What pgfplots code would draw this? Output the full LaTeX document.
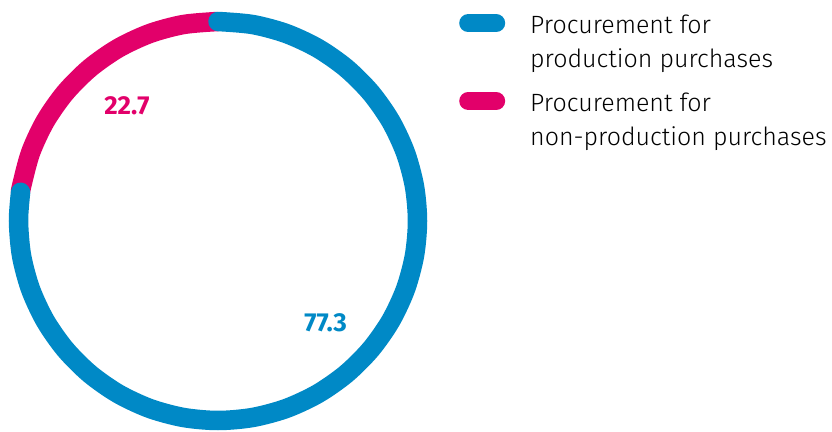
\documentclass[border=0pt]{standalone}
\usepackage{pgfplots}
\pgfplotsset{compat=1.18}
\usepgfplotslibrary{polar}
\usepackage{fontspec}
\IfFontExistsTF{Fira Sans Light}{\setmainfont{Fira Sans Light}[BoldFont={Fira Sans Bold}]}{\setmainfont{Fira Sans}}
\definecolor{cblue}{RGB}{0,137,198}
\definecolor{cpink}{RGB}{226,0,106}
\begin{document}
\begin{tikzpicture}[x=1pt,y=1pt]
\useasboundingbox (0,0) rectangle (832,431);
\begin{polaraxis}[
  at={(218pt,210pt)}, anchor=center,
  scale only axis, width=399pt, height=399pt,
  ymin=0, ymax=1,
  hide axis, clip=false,
  reverse legend,
  legend cell align=left,
  legend style={at={(axis description cs:1.104,1.0188)}, anchor=north west,
    draw=none, fill=none, inner sep=0pt, row sep=23pt, column sep=25pt,
    nodes={inner sep=0pt, align=left},
    font=\fontsize{25}{33.6}\selectfont},
  legend image code/.code={\draw[line width=18pt,line cap=round] (0pt,19pt) -- (28pt,19pt);},
]
% non-production purchases: 22.7 % of 360 deg, counter-clockwise from top
\addplot[cpink, line width=19.5pt, smooth] coordinates {
 (90,1) (100,1) (110,1) (120,1) (130,1) (140,1) (150,1) (160,1) (170,1) (171.72,1)};
\addlegendentry{Procurement for\\non-production purchases}
% production purchases: 77.3 % of 360 deg, clockwise from top
\addplot[cblue, line width=19.5pt, line cap=round, smooth] coordinates {
 (90,1) (80,1) (70,1) (60,1) (50,1) (40,1) (30,1) (20,1) (10,1) (0,1)
 (-10,1) (-20,1) (-30,1) (-40,1) (-50,1) (-60,1) (-70,1) (-80,1) (-90,1)
 (-100,1) (-110,1) (-120,1) (-130,1) (-140,1) (-150,1) (-160,1) (-170,1)
 (-180,1) (-188.28,1)};
\addlegendentry{Procurement for\\production purchases}
\node[cpink, font=\bfseries\fontsize{26}{30}\selectfont] at (axis cs:128.4,0.735) {22.7};
\node[cblue, font=\bfseries\fontsize{26}{30}\selectfont] at (axis cs:-43.5,0.744) {77.3};
\end{polaraxis}
\end{tikzpicture}
\end{document}
